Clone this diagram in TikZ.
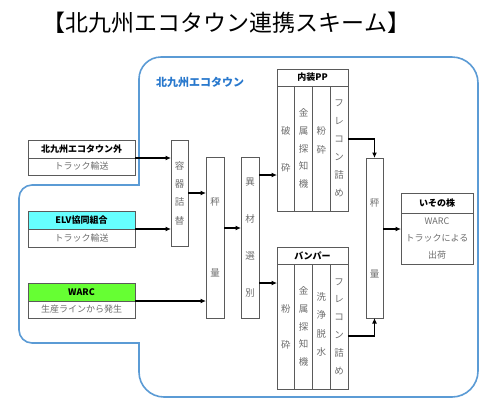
\documentclass[tikz,border=0pt]{standalone}
\usepackage{fontspec}
\setmainfont{Noto Sans CJK JP}
\usetikzlibrary{arrows.meta,calc}
\definecolor{blueline}{RGB}{91,155,213}
\definecolor{bluetext}{RGB}{40,120,205}
\definecolor{boxline}{RGB}{90,90,90}
\definecolor{txtgray}{RGB}{110,110,110}
\definecolor{elvcyan}{RGB}{102,255,255}
\definecolor{warcgreen}{RGB}{102,255,51}
\begin{document}
\begin{tikzpicture}[x=1pt,y=-1pt,
 box/.style={draw=boxline, line width=0.8pt, inner sep=0pt, outer sep=0pt, anchor=center},
 hdr/.style={box, font=\bfseries\fontsize{9}{10}\selectfont, text=black},
 bodybox/.style={box, font=\fontsize{9}{10}\selectfont, text=txtgray},
 vt/.style={text=txtgray, align=center, inner sep=0pt},
 arr/.style={line width=1.6pt, -{Latex[length=5.5pt,width=5pt]}},
]
\useasboundingbox (0,0) rectangle (489,400);
\fill[white] (0,0) rectangle (489,400);

\node[font=\fontsize{23}{26}\selectfont] (title) at (226.5,23) {【北九州エコタウン連携スキーム】};

% blue region outline
\draw[blueline, line width=1.6pt] (139,185) -- (139,79) arc[start angle=180,end angle=90,radius=22pt]
  -- (452,57) arc[start angle=90,end angle=0,radius=26pt]
  -- (478,371) arc[start angle=0,end angle=-90,radius=26pt]
  -- (164,397) arc[start angle=270,end angle=180,radius=25pt]
  -- (139,343) -- (32,343) arc[start angle=270,end angle=180,radius=13pt]
  -- (19,198) arc[start angle=180,end angle=90,radius=13pt] -- cycle;

\node[font=\bfseries\fontsize{11}{12}\selectfont, text=bluetext] (ecolbl) at (200,82) {北九州エコタウン};

% left source boxes
\node[hdr, minimum width=107pt, minimum height=18pt] (b1h) at (81.5,149) {北九州エコタウン外};
\node[bodybox, minimum width=107pt, minimum height=17pt] (b1b) at (81.5,166.5) {トラック輸送};
\node[hdr, fill=elvcyan, minimum width=107pt, minimum height=18pt] (b2h) at (81.5,220) {ELV協同組合};
\node[bodybox, minimum width=107pt, minimum height=18pt] (b2b) at (81.5,238) {トラック輸送};
\node[hdr, fill=warcgreen, minimum width=107pt, minimum height=18pt] (b3h) at (81.5,292) {WARC};
\node[bodybox, minimum width=107pt, minimum height=17pt] (b3b) at (81.5,309.5) {生産ラインから発生};

% vertical process boxes
\node[box, minimum width=17pt, minimum height=106pt] (yoki) at (179.5,193) {};
\node[vt, font=\fontsize{9.5}{18.3}\selectfont] (yokit) at (yoki) {容\\器\\詰\\替};
\node[box, minimum width=18pt, minimum height=161pt] (hk1) at (215,237.5) {};
\node[vt, font=\fontsize{9.5}{71}\selectfont] (hk1t) at (hk1) {秤\\量};
\node[box, minimum width=18pt, minimum height=161pt] (sel) at (250,237.5) {};
\node[vt, font=\fontsize{9.5}{37}\selectfont] (selt) at (sel) {異\\材\\選\\別};

% 内装PP
\node[hdr, minimum width=71pt, minimum height=17pt] (pph) at (312.5,77.5) {内装PP};
\node[box, minimum width=17.75pt, minimum height=125pt] (ppA) at (285.9,148.5) {};
\node[box, minimum width=17.75pt, minimum height=125pt] (ppB) at (303.6,148.5) {};
\node[box, minimum width=17.75pt, minimum height=125pt] (ppC) at (321.4,148.5) {};
\node[box, minimum width=17.75pt, minimum height=125pt] (ppD) at (339.1,148.5) {};
\node[vt, font=\fontsize{9.5}{37}\selectfont] (ppAt) at (285.9,149.5) {破\\砕};
\node[vt, font=\fontsize{9.5}{17.8}\selectfont] (ppBt) at (303.6,148.5) {金\\属\\探\\知\\機};
\node[vt, font=\fontsize{9.5}{19}\selectfont] (ppCt) at (321.4,140.5) {粉\\砕};
\node[vt, font=\fontsize{9.5}{18}\selectfont] (ppDt) at (339.1,148) {フ\\レ\\コ\\ン\\詰\\め};

% バンパー
\node[hdr, minimum width=71pt, minimum height=17pt] (bph) at (312.5,255.5) {バンパー};
\node[box, minimum width=17.75pt, minimum height=125pt] (bpA) at (285.9,326.5) {};
\node[box, minimum width=17.75pt, minimum height=125pt] (bpB) at (303.6,326.5) {};
\node[box, minimum width=17.75pt, minimum height=125pt] (bpC) at (321.4,326.5) {};
\node[box, minimum width=17.75pt, minimum height=125pt] (bpD) at (339.1,326.5) {};
\node[vt, font=\fontsize{9.5}{36}\selectfont] (bpAt) at (285.9,327) {粉\\砕};
\node[vt, font=\fontsize{9.5}{17.8}\selectfont] (bpBt) at (303.6,326.5) {金\\属\\探\\知\\機};
\node[vt, font=\fontsize{9.5}{18.5}\selectfont] (bpCt) at (321.4,324.5) {洗\\浄\\脱\\水};
\node[vt, font=\fontsize{9.5}{17.8}\selectfont] (bpDt) at (339.1,326.5) {フ\\レ\\コ\\ン\\詰\\め};

% right weighing box
\node[box, minimum width=17pt, minimum height=160pt] (hk2) at (374.5,238) {};
\node[vt, font=\fontsize{9.5}{71}\selectfont] (hk2t) at (hk2) {秤\\量};

% いその株
\node[hdr, minimum width=72pt, minimum height=20pt] (ish) at (437,203) {いその株};
\node[box, minimum width=72pt, minimum height=51pt, align=center, text=txtgray, font=\fontsize{9}{17}\selectfont] (isb) at (437,238.5) {WARC\\トラックによる\\出荷};

% arrows
\draw[arr] (b1h.south east) -- (b1h.south east -| yoki.west);
\draw[arr] (b2h.south east) -- (b2h.south east -| yoki.west);
\draw[arr] (yoki.east) -- (yoki.east -| hk1.west);
\draw[arr] (b3h.south east) -- (b3h.south east -| hk1.west);
\draw[arr] ([yshift=9.5pt]hk1.east) -- ([yshift=9.5pt]hk1.east -| sel.west);
\draw[arr] ([yshift=62.5pt]sel.east) -- ([yshift=62.5pt]sel.east -| ppA.west);
\draw[arr] ([yshift=-45.5pt]sel.east) -- ([yshift=-45.5pt]sel.east -| bpA.west);
\draw[arr] ([yshift=9.5pt]ppD.east) -| (hk2.north);
\draw[arr] ([yshift=-9.5pt]bpD.east) -| (hk2.south);
\draw[arr] ([yshift=9pt]hk2.east) -- ([yshift=9pt]hk2.east -| ish.west);
\end{tikzpicture}
\end{document}
